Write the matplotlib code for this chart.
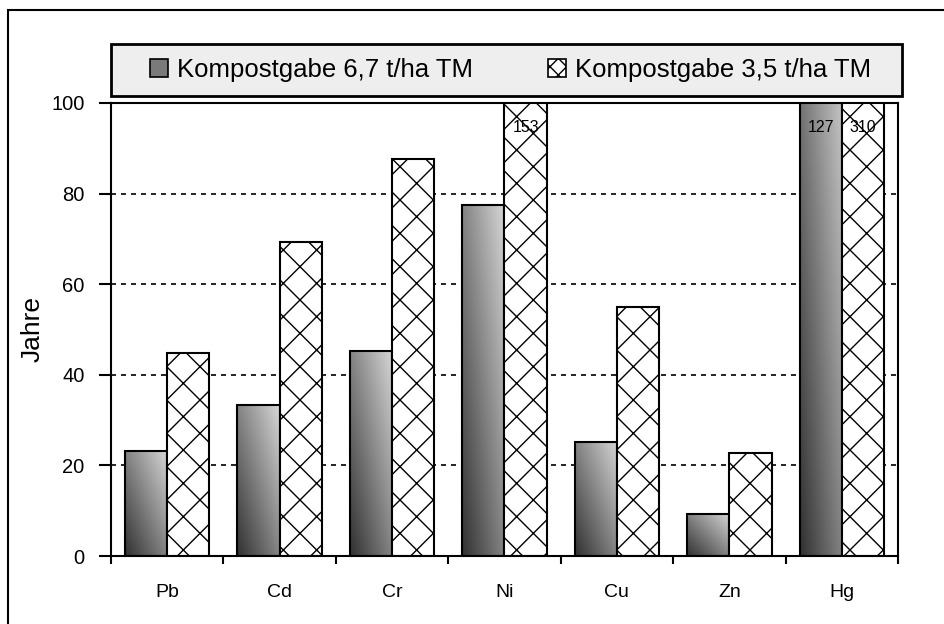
import numpy as np
import matplotlib.pyplot as plt
from matplotlib.patches import Rectangle

# Daten
elemente = ["Pb", "Cd", "Cr", "Ni", "Cu", "Zn", "Hg"]
kompost_67 = [23.2, 33.3, 45.3, 77.5, 25.2, 9.3, 127]
kompost_35 = [44.8, 69.3, 87.6, 153, 55.0, 22.7, 310]
serien = ["Kompostgabe 6,7 t/ha TM", "Kompostgabe 3,5 t/ha TM"]

plt.rcParams['font.family'] = ['Liberation Sans', 'DejaVu Sans']
plt.rcParams['hatch.linewidth'] = 1.0

fig = plt.figure(figsize=(9.44, 6.24), dpi=100)
ax = fig.add_axes([111/944, 1-556/624, (898-111)/944, (556-103)/624])

x = np.arange(len(elemente))
w = 0.375
ymax = 100

bars1 = ax.bar(x - w/2, kompost_67, w, color='none', edgecolor='black', linewidth=1.5, zorder=3)
bars2 = ax.bar(x + w/2, kompost_35, w, color='white', edgecolor='black', linewidth=1.5,
               hatch='x', zorder=3)

# Farbverlauf in den vollen Balken (diagonal, unten links dunkel)
for b in bars1:
    x0, h, bw = b.get_x(), b.get_height(), b.get_width()
    top = min(h, ymax)
    gx, gy = np.meshgrid(np.linspace(0, 1, 50), np.linspace(0, top / h, 100))
    grad = 0.5 * gx + 0.5 * gy
    im = ax.imshow(grad, extent=[x0, x0 + bw, 0, top], origin='lower', cmap='gray',
                   vmin=-0.3, vmax=1.25, aspect='auto', zorder=2)
    im.set_clip_path(b)

ax.set_xlim(-0.5, len(elemente) - 0.5)
ax.set_ylim(0, ymax)

# Werte ueber 100
for i in range(len(elemente)):
    if kompost_67[i] > ymax:
        ax.text(x[i] - w/2, 96.2, f"{kompost_67[i]:.0f}", ha='center', va='top', fontsize=11.5, zorder=5)
    if kompost_35[i] > ymax:
        ax.text(x[i] + w/2, 96.2, f"{kompost_35[i]:.0f}", ha='center', va='top', fontsize=11.5, zorder=5)

ax.set_yticks([0, 20, 40, 60, 80, 100])
ax.set_xticks(x)
ax.set_xticklabels(elemente, fontsize=14)
ax.set_xticks(np.arange(len(elemente) + 1) - 0.5, minor=True)
ax.tick_params(axis='x', which='major', length=0, pad=20)
ax.tick_params(axis='x', which='minor', length=6, width=1.5, direction='out')
ax.tick_params(axis='y', length=9, width=1.5, direction='out', pad=10, labelsize=14.5)

for yv in [20, 40, 60, 80]:
    ax.axhline(yv, color='black', linestyle=(0, (3, 3)), linewidth=1.2, zorder=1)

for s in ax.spines.values():
    s.set_linewidth(1.5)
    s.set_zorder(6)

ax.set_ylabel("Jahre", fontsize=19, labelpad=5)

# Legende: Rahmen separat, Eintraege ohne Rahmen
fig.add_artist(Rectangle((111/944, 1-96/624), (902-111)/944, 52/624, transform=fig.transFigure,
                         facecolor='#eeeeee', edgecolor='black', linewidth=2))
handles = [Rectangle((0, 0), 1, 1, facecolor='#7a7a7a', edgecolor='black', linewidth=1.2),
           Rectangle((0, 0), 1, 1, facecolor='white', edgecolor='black', linewidth=1.2, hatch='xx')]
leg = fig.legend(handles, serien, loc='center left', ncol=2,
                 bbox_to_anchor=(140/944, 1-70/624),
                 fontsize=18.5, frameon=False, handlelength=0.7, handleheight=0.7,
                 handletextpad=0.35, columnspacing=2.9, borderaxespad=0)

# Rahmen
fig.add_artist(Rectangle((8/944, -0.1), 1.2, 1.1 - 10/624, transform=fig.transFigure,
                         fill=False, edgecolor='black', linewidth=1.5))

fig.savefig("out.png", dpi=100)
